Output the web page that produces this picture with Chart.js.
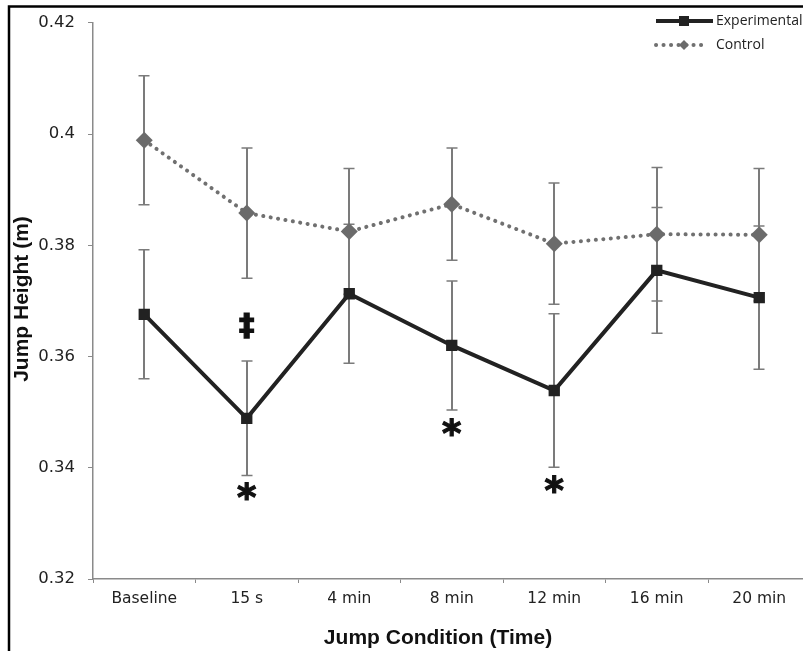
<!DOCTYPE html>
<html>
<head>
<meta charset="utf-8">
<script src="https://cdn.jsdelivr.net/npm/chart.js@4"></script>
<style>
  html, body { margin: 0; padding: 0; background: #fff; overflow: hidden; }
  #jump-chart { display: block; }
</style>
</head>
<body>
<canvas id="jump-chart" width="830" height="651"></canvas>
<script>
// jump height per condition, mean and SD
const conditions = ['Baseline', '15 s', '4 min', '8 min', '12 min', '16 min', '20 min'];
const experimental = [0.3676, 0.3489, 0.3713, 0.3620, 0.3539, 0.3755, 0.3706];
const experimentalSD = [0.0116, 0.0103, 0.0125, 0.0116, 0.0138, 0.0113, 0.0129];
const control = [0.3989, 0.3858, 0.3825, 0.3874, 0.3803, 0.3820, 0.3819];
const controlSD = [0.0116, 0.0117, 0.0113, 0.0101, 0.0109, 0.0120, 0.0119];
const yTicks = [0.32, 0.34, 0.36, 0.38, 0.4, 0.42];

// significance symbols under/over the experimental points
const markSymbols = ['\u2021', '*', '*', '*'];
const markConditions = ['15 s', '15 s', '8 min', '12 min'];
const markHeights = [0.3655, 0.3358, 0.3474, 0.3371];

const xTitle = 'Jump Condition (Time)';
const yTitle = 'Jump Height (m)';

const axisGrey = '#8a8a8a';
const titleFont = 'bold 21px "Liberation Sans"';

const errorBars = {
  id: 'errorBars',
  beforeDatasetsDraw(chart) {
    const { ctx, scales: { x, y } } = chart;
    ctx.save();
    ctx.strokeStyle = '#7b7b7b';
    chart.data.datasets.forEach(ds => {
      ds.data.forEach((v, i) => {
        const px = Math.round(x.getPixelForValue(i));
        const top = y.getPixelForValue(v + ds.sd[i]);
        const bot = y.getPixelForValue(v - ds.sd[i]);
        ctx.lineWidth = 2;
        ctx.beginPath();
        ctx.moveTo(px, top);
        ctx.lineTo(px, bot);
        ctx.stroke();
        ctx.lineWidth = 1.5;
        ctx.beginPath();
        ctx.moveTo(px - 5.5, top);
        ctx.lineTo(px + 5.5, top);
        ctx.moveTo(px - 5.5, bot);
        ctx.lineTo(px + 5.5, bot);
        ctx.stroke();
      });
    });
    ctx.restore();
  }
};

const sigMarks = {
  id: 'sigMarks',
  afterDatasetsDraw(chart) {
    const { ctx, scales: { x, y } } = chart;
    ctx.save();
    ctx.fillStyle = '#111';
    ctx.strokeStyle = '#111';
    ctx.lineWidth = 1.2;
    ctx.textAlign = 'center';
    ctx.textBaseline = 'alphabetic';
    markSymbols.forEach((s, i) => {
      ctx.font = s === '*' ? 'bold 37px "DejaVu Sans"' : 'bold 31px "DejaVu Sans"';
      const m = ctx.measureText(s);
      const px = x.getPixelForValue(conditions.indexOf(markConditions[i]));
      const py = y.getPixelForValue(markHeights[i]);
      const off = (m.actualBoundingBoxAscent - m.actualBoundingBoxDescent) / 2;
      ctx.fillText(s, px, py + off);
      ctx.strokeText(s, px, py + off);
    });
    ctx.restore();
  }
};

// axis titles, bold, placed by hand
const axisTitles = {
  id: 'axisTitles',
  afterDraw(chart) {
    const ctx = chart.ctx;
    ctx.save();
    ctx.fillStyle = '#111';
    ctx.font = titleFont;
    ctx.textAlign = 'center';
    ctx.textBaseline = 'alphabetic';
    ctx.fillText(xTitle, 438, 644);
    ctx.translate(28, 299);
    ctx.rotate(-Math.PI / 2);
    ctx.fillText(yTitle, 0, 0);
    ctx.restore();
  }
};

const sideLegend = {
  id: 'sideLegend',
  afterDraw(chart) {
    const ctx = chart.ctx;
    chart.data.datasets.forEach((ds, i) => {
      const ly = 21 + i * 24;
      ctx.save();
      ctx.strokeStyle = ds.borderColor;
      ctx.lineWidth = ds.borderWidth;
      ctx.lineCap = ds.borderCapStyle || 'butt';
      ctx.setLineDash(ds.borderDash || []);
      ctx.beginPath();
      ctx.moveTo(656, ly);
      ctx.lineTo(i ? 704 : 713, ly);
      ctx.stroke();
      ctx.setLineDash([]);
      ctx.fillStyle = ds.pointBackgroundColor;
      ctx.beginPath();
      if (ds.pointStyle === 'rect') {
        ctx.rect(679, ly - 5, 10, 10);
      } else {
        ctx.moveTo(684, ly - 5);
        ctx.lineTo(689, ly);
        ctx.lineTo(684, ly + 5);
        ctx.lineTo(679, ly);
        ctx.closePath();
      }
      ctx.fill();
      ctx.fillStyle = '#222';
      ctx.font = '14px "Open Sans"';
      ctx.textBaseline = 'middle';
      ctx.fillText(ds.label, 716, ly);
      ctx.restore();
    });
  }
};

const frame = {
  id: 'frame',
  afterDraw(chart) {
    const ctx = chart.ctx;
    ctx.save();
    ctx.strokeStyle = '#000';
    ctx.lineWidth = 2.5;
    ctx.strokeRect(9, 6.5, 900, 800);
    ctx.restore();
  }
};

new Chart(document.getElementById('jump-chart').getContext('2d'), {
  type: 'line',
  data: {
    labels: conditions,
    datasets: [
      {
        label: 'Experimental',
        data: experimental,
        sd: experimentalSD,
        borderColor: '#222222',
        borderWidth: 4,
        pointStyle: 'rect',
        pointRadius: 8,
        pointBorderWidth: 0,
        pointBackgroundColor: '#222222',
        tension: 0
      },
      {
        label: 'Control',
        data: control,
        sd: controlSD,
        borderColor: '#707070',
        borderWidth: 4,
        borderDash: [0.1, 7.4],
        borderCapStyle: 'round',
        pointStyle: 'rectRot',
        pointRadius: 8.5,
        pointBorderWidth: 0,
        pointBackgroundColor: '#6b6b6b',
        tension: 0
      }
    ]
  },
  options: {
    responsive: false,
    animation: false,
    devicePixelRatio: 1,
    layout: { padding: { left: 10, top: 16.5, right: 19.5, bottom: 0 } },
    plugins: {
      legend: { display: false },
      tooltip: { enabled: false }
    },
    scales: {
      x: {
        offset: true,
        grid: { offset: true, drawOnChartArea: false, tickLength: 4, color: axisGrey },
        border: { color: axisGrey, width: 1.5 },
        ticks: { color: '#222', padding: 7, font: { family: 'DejaVu Sans', size: 15.5 } },
        afterFit: scale => { scale.height = 72; }
      },
      y: {
        min: 0.32,
        max: 0.42,
        grid: { drawOnChartArea: false, tickLength: 5, color: axisGrey },
        border: { color: axisGrey, width: 1.5 },
        ticks: {
          color: '#222',
          padding: 13,
          font: { family: 'DejaVu Sans', size: 16.5 },
          callback: v => String(+v.toFixed(2))
        },
        afterBuildTicks: scale => { scale.ticks = yTicks.map(v => ({ value: v })); },
        afterFit: scale => { scale.width = 83; }
      }
    }
  },
  plugins: [errorBars, sigMarks, axisTitles, sideLegend, frame]
});
</script>
</body>
</html>
